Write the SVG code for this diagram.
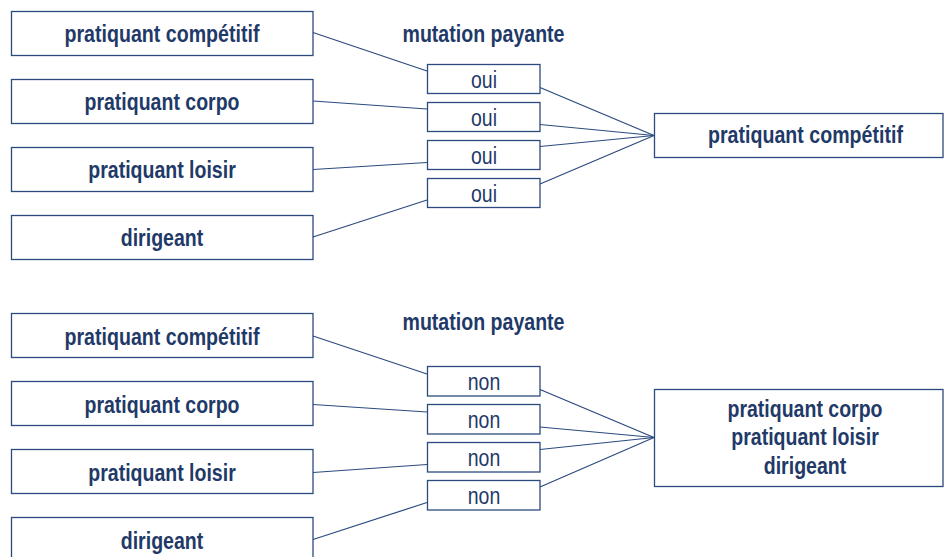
<svg xmlns="http://www.w3.org/2000/svg" width="944" height="557" viewBox="0 0 944 557">
<style>
.box{fill:#fff;stroke:#2B4A7E;stroke-width:1.3}
.lbl{font-family:"Liberation Sans",Arial,sans-serif;font-weight:bold;font-size:23.5px;fill:#1F3A68;text-anchor:middle}
.small{font-family:"Liberation Sans",Arial,sans-serif;font-size:23.5px;fill:#1F3A68;text-anchor:middle}
.conn line{stroke:#2B4A7E;stroke-width:1.2}
</style>
<rect width="944" height="557" fill="#fff"/>
<g class="conn" id="connectors">
<line x1="313" y1="32.5" x2="427" y2="71"/>
<line x1="313" y1="101" x2="427" y2="109"/>
<line x1="313" y1="169.5" x2="427" y2="162.5"/>
<line x1="313" y1="237" x2="427" y2="200"/>
<line x1="540" y1="87.5" x2="654" y2="135.5"/>
<line x1="540" y1="124.5" x2="654" y2="135.5"/>
<line x1="540" y1="146.5" x2="654" y2="135.5"/>
<line x1="540" y1="184" x2="654" y2="135.5"/>
<line x1="313" y1="336" x2="427" y2="374"/>
<line x1="313" y1="404.5" x2="427" y2="412"/>
<line x1="313" y1="472.5" x2="427" y2="464.5"/>
<line x1="313" y1="539.5" x2="427" y2="502.5"/>
<line x1="540" y1="389.5" x2="654" y2="437.5"/>
<line x1="540" y1="427" x2="654" y2="437.5"/>
<line x1="540" y1="449.5" x2="654" y2="437.5"/>
<line x1="540" y1="487" x2="654" y2="437.5"/>
</g>
<g id="t-src1"><rect class="box" x="11.5" y="11.5" width="301.5" height="44"/><text class="lbl" x="162" y="42" textLength="195" lengthAdjust="spacingAndGlyphs">pratiquant compétitif</text></g>
<g id="t-src2"><rect class="box" x="11.5" y="79.5" width="301.5" height="44"/><text class="lbl" x="162" y="110" textLength="155" lengthAdjust="spacingAndGlyphs">pratiquant corpo</text></g>
<g id="t-src3"><rect class="box" x="11.5" y="147.5" width="301.5" height="44"/><text class="lbl" x="162" y="178" textLength="147.5" lengthAdjust="spacingAndGlyphs">pratiquant loisir</text></g>
<g id="t-src4"><rect class="box" x="11.5" y="215.5" width="301.5" height="44"/><text class="lbl" x="162" y="246" textLength="82.5" lengthAdjust="spacingAndGlyphs">dirigeant</text></g>
<g id="t-title"><text class="lbl" x="483.5" y="42" textLength="162" lengthAdjust="spacingAndGlyphs">mutation payante</text></g>
<g id="t-oui1"><rect class="box" x="427.5" y="64.5" width="112.5" height="29"/><text class="small" x="484" y="87.5" textLength="26" lengthAdjust="spacingAndGlyphs">oui</text></g>
<g id="t-oui2"><rect class="box" x="427.5" y="102.5" width="112.5" height="29"/><text class="small" x="484" y="125.5" textLength="26" lengthAdjust="spacingAndGlyphs">oui</text></g>
<g id="t-oui3"><rect class="box" x="427.5" y="140.5" width="112.5" height="29"/><text class="small" x="484" y="163.5" textLength="26" lengthAdjust="spacingAndGlyphs">oui</text></g>
<g id="t-oui4"><rect class="box" x="427.5" y="178.5" width="112.5" height="29"/><text class="small" x="484" y="201.5" textLength="26" lengthAdjust="spacingAndGlyphs">oui</text></g>
<g id="t-dst"><rect class="box" x="654.5" y="113.5" width="288.5" height="44"/><text class="lbl" x="805.5" y="143" textLength="195" lengthAdjust="spacingAndGlyphs">pratiquant compétitif</text></g>
<g id="b-src1"><rect class="box" x="11.5" y="313.5" width="301.5" height="44"/><text class="lbl" x="162" y="345" textLength="195" lengthAdjust="spacingAndGlyphs">pratiquant compétitif</text></g>
<g id="b-src2"><rect class="box" x="11.5" y="381.5" width="301.5" height="44"/><text class="lbl" x="162" y="413" textLength="155" lengthAdjust="spacingAndGlyphs">pratiquant corpo</text></g>
<g id="b-src3"><rect class="box" x="11.5" y="449.5" width="301.5" height="44"/><text class="lbl" x="162" y="481" textLength="147.5" lengthAdjust="spacingAndGlyphs">pratiquant loisir</text></g>
<g id="b-src4"><rect class="box" x="11.5" y="517.5" width="301.5" height="44"/><text class="lbl" x="162" y="549" textLength="82.5" lengthAdjust="spacingAndGlyphs">dirigeant</text></g>
<g id="b-title"><text class="lbl" x="483.5" y="329.5" textLength="162" lengthAdjust="spacingAndGlyphs">mutation payante</text></g>
<g id="b-non1"><rect class="box" x="427.5" y="366.5" width="112.5" height="29.5"/><text class="small" x="484" y="390" textLength="32.5" lengthAdjust="spacingAndGlyphs">non</text></g>
<g id="b-non2"><rect class="box" x="427.5" y="404.5" width="112.5" height="29.5"/><text class="small" x="484" y="428" textLength="32.5" lengthAdjust="spacingAndGlyphs">non</text></g>
<g id="b-non3"><rect class="box" x="427.5" y="442.5" width="112.5" height="29.5"/><text class="small" x="484" y="466" textLength="32.5" lengthAdjust="spacingAndGlyphs">non</text></g>
<g id="b-non4"><rect class="box" x="427.5" y="480.5" width="112.5" height="29.5"/><text class="small" x="484" y="504" textLength="32.5" lengthAdjust="spacingAndGlyphs">non</text></g>
<g id="b-dst"><rect class="box" x="654.5" y="389.5" width="288.5" height="97"/><text class="lbl" x="805" y="417" textLength="155" lengthAdjust="spacingAndGlyphs">pratiquant corpo</text><text class="lbl" x="805" y="445" textLength="147.5" lengthAdjust="spacingAndGlyphs">pratiquant loisir</text><text class="lbl" x="805" y="473.5" textLength="82.5" lengthAdjust="spacingAndGlyphs">dirigeant</text></g>
</svg>
